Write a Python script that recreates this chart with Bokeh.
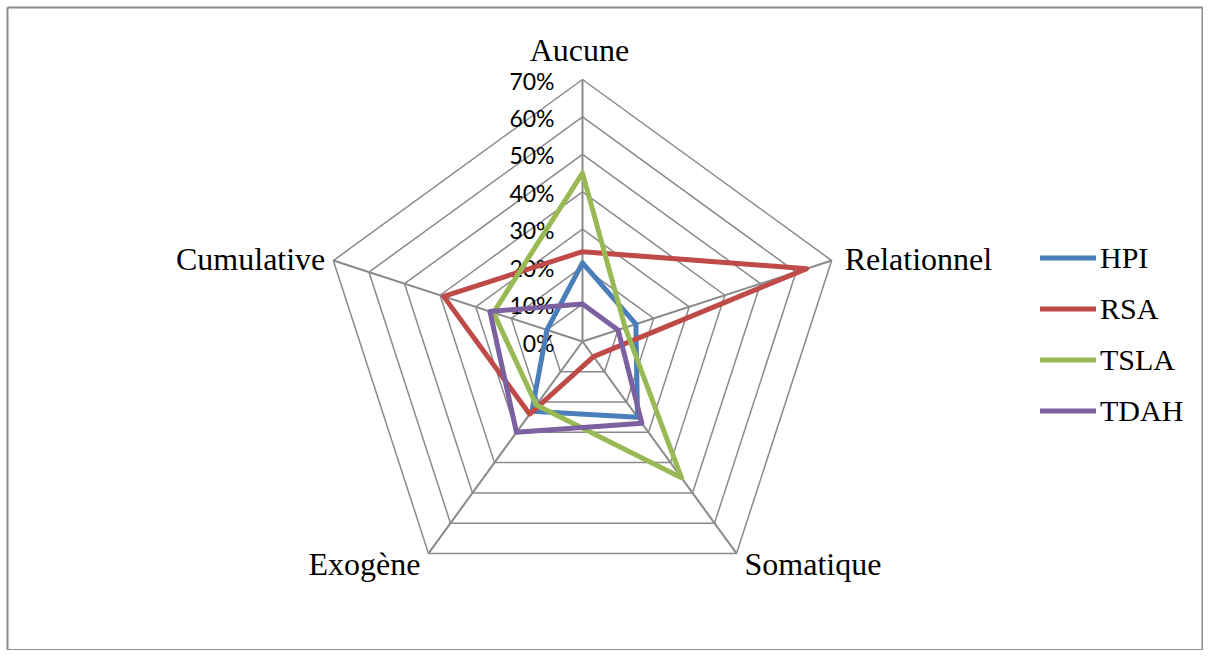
import numpy as np
from bokeh.plotting import figure
from bokeh.models import Range1d, Legend, LegendItem
from bokeh.core.properties import value
from bokeh.embed import file_html
from bokeh.resources import INLINE

# ---- data ----
categories = ["Aucune", "Relationnel", "Somatique", "Exogène", "Cumulative"]
series_names = ["HPI", "RSA", "TSLA", "TDAH"]
hpi = [21, 15, 25, 23, 10]
rsa = [24, 63, 5, 24, 39]
tsla = [45, 12, 45, 21, 25]
tdah = [10, 10, 27, 30, 26]
tick_values = [0, 10, 20, 30, 40, 50, 60, 70]
tick_labels = ["0%", "10%", "20%", "30%", "40%", "50%", "60%", "70%"]

series_values = [hpi, rsa, tsla, tdah]
colors = ["#4A7EBB", "#BE4B48", "#98B954", "#7D60A0"]

# ---- layout ----
W, H = 1203, 650
cx, cy = 582.0, H - 341.0      # centre in figure pixel coords
rmax = 70.0
scale = 262.0 / rmax           # px per percent
angles = np.deg2rad([90 - 72 * k for k in range(len(categories))])

p = figure(width=W, height=H, x_range=Range1d(0, W), y_range=Range1d(0, H),
           output_backend="svg", toolbar_location=None, min_border=0,
           x_axis_location=None, y_axis_location=None)
p.grid.grid_line_color = None
p.outline_line_color = None
p.background_fill_color = "white"
p.border_fill_color = "white"

# chart border
p.line([7, 7, W - 1, W - 1, 7], [H - 7, 0.5, 0.5, H - 7, H - 7],
       line_color="#8C8C8C", line_width=2)


def to_xy(vals):
    v = np.asarray(vals, dtype=float) * scale
    xs = cx + v * np.cos(angles)
    ys = cy + v * np.sin(angles)
    return list(xs) + [xs[0]], list(ys) + [ys[0]]


grid_col = "#8A8A8A"
# rings
ring_xs, ring_ys = [], []
for t in tick_values[1:]:
    xs, ys = to_xy([t] * len(categories))
    ring_xs.append(xs)
    ring_ys.append(ys)
p.multi_line(ring_xs, ring_ys, line_color=grid_col, line_width=1.5)

# spokes
ox, oy = to_xy([rmax] * len(categories))
p.segment(x0=[cx] * len(categories), y0=[cy] * len(categories),
          x1=ox[:-1], y1=oy[:-1], line_color=grid_col, line_width=2)

# tick labels
p.text(x=[cx - 28] * len(tick_values), y=[cy + t * scale for t in tick_values],
       text=tick_labels, text_align="right", text_baseline="middle",
       text_font=value("Lato"), text_font_size="23px", text_color="black",
       y_offset=1)

# category labels
lab_dx = [-3, 13, 8, -8, -8]
lab_dy = [-30, -2, 11, 11, -2]
lab_align = ["center", "left", "left", "right", "right"]
for i, c in enumerate(categories):
    p.text(x=[ox[i]], y=[oy[i]], text=[c], text_align=lab_align[i],
           text_baseline="alphabetic", x_offset=lab_dx[i], y_offset=lab_dy[i],
           text_font=value("Liberation Serif"), text_font_size="32px",
           text_color="black")

# series
items = []
for name, vals, col in zip(series_names, series_values, colors):
    xs, ys = to_xy(vals)
    r = p.line(xs, ys, line_color=col, line_width=5,
               line_join="round", line_cap="round")
    items.append(LegendItem(label=name, renderers=[r]))

legend = Legend(items=items, location=(1040, H - 436), orientation="vertical",
                glyph_width=56, glyph_height=51, label_height=51,
                spacing=0, padding=0, margin=0, label_standoff=4,
                border_line_color=None, background_fill_alpha=0,
                label_text_font="Liberation Serif", label_text_font_size="30px",
                label_text_color="black", label_text_baseline="middle")
p.add_layout(legend)

open("out.html", "w").write(file_html(p, INLINE))
